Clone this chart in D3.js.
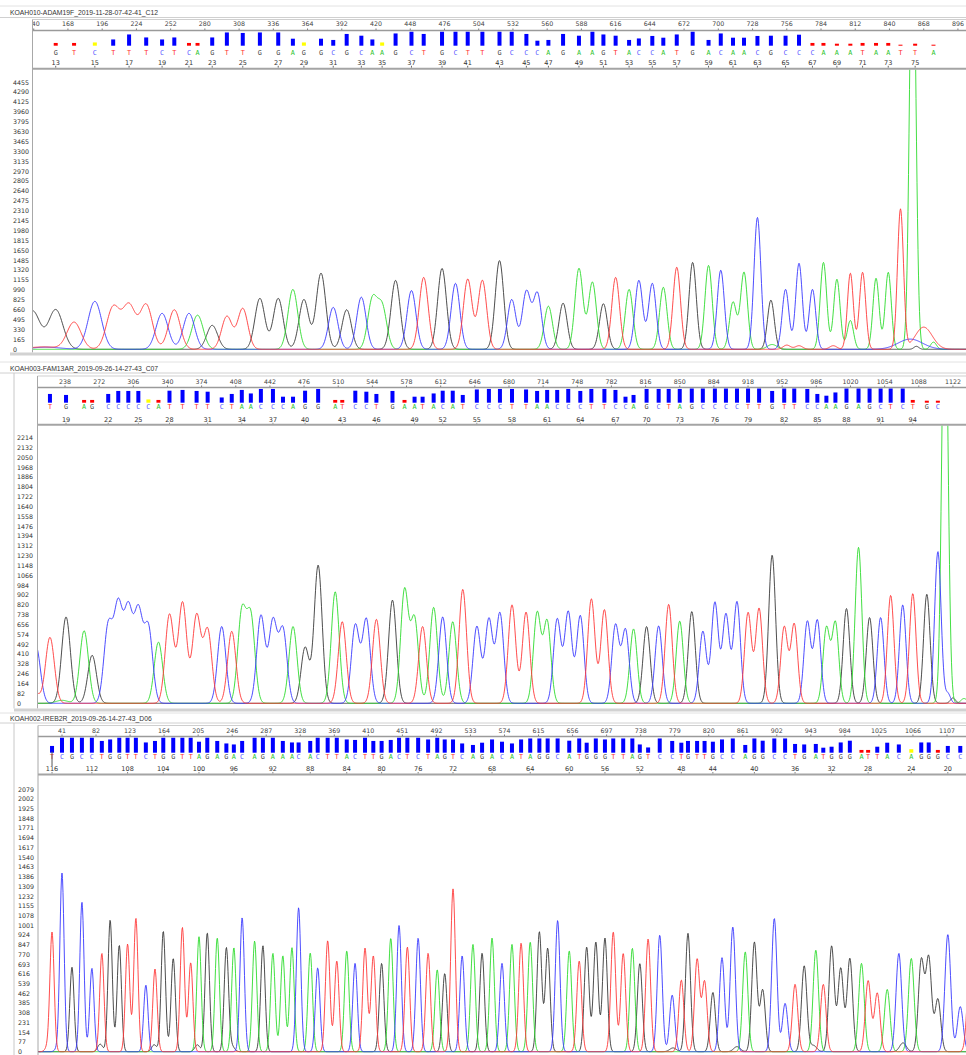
<!DOCTYPE html>
<html>
<head>
<meta charset="utf-8">
<script src="https://cdn.jsdelivr.net/npm/d3@7"></script>
<style>
  body { margin: 0; background: #fff; }
  svg { display: block; }
  text { font-family: "DejaVu Sans", sans-serif; }
</style>
</head>
<body>
<div id="chart"></div>
<script>
// ---------- panel 1 : KOAH010-ADAM19F ----------
const title1 = 'KOAH010-ADAM19F_2019-11-28-07-42-41_C12';
const seq1 = 'GTCTTTCTCAGTTGGAGGCGCAAGCTGCTTGCCCAGAAGTACCATGACAACGCCCAAATAATTA';
const num1 = d3.range(13, 77);
const pos1 = [158,173,190,205,218,232,245,255,267,274,
  286,298,311,325,340,352,361,375,385,396,
  408,417,425,436,449,459,474,485,495,507,
  521,531,543,552,561,573,586,597,606,616,
  627,635,646,655,666,679,692,702,712,721,
  732,743,755,766,777,786,797,808,818,829,
  839,849,861,876];
const qual1 = [11,11,13,25,45,33,25,33,11,11,
  33,53,51,53,53,28,13,28,23,47,
  40,25,13,49,56,47,56,56,56,56,
  56,56,47,20,23,47,40,56,45,40,
  23,29,39,32,45,56,23,49,32,32,
  39,40,40,44,11,11,8,8,11,11,
  11,4,8,4];
const amp1 = [660,450,800,700,720,740,600,660,600,570,
  400,550,680,850,850,1000,830,1270,700,660,
  870,820,700,1150,980,1200,1350,1100,1170,1150,
  1480,830,960,930,720,770,1350,1120,760,1200,
  1000,1150,1100,1035,1370,1450,1400,1320,785,1285,
  2200,820,1000,1435,1000,1450,1170,480,1285,1185,
  1285,2335,0,120];
// secondary / uncalled peaks: [channel, sample, height, width in samples (0 = default)]
const extra1 = [['G',139,640,0],['C',150,35,12],['T',148,40,12],['T',808,1270,2.4],
  ['A',744,80,4],['T',756,70,3],['T',766,60,3],['T',794,60,3],
  ['A',859,7500,2.5],['T',868,370,7],['C',857,170,10],['G',862,50,2]];
const numLabels1 = d3.range(13, 76, 2);
const sampleTicks1 = d3.range(140, 897, 28);
const yTicks1 = d3.range(0, 4456, 165);

// ---------- panel 2 : KOAH003-FAM13AR ----------
const title2 = 'KOAH003-FAM13AR_2019-09-26-14-27-43_C07';
const seq2 = 'TGAGCCCCCATTTTCTAACCCAGGATCCTGAATACATCCCTTAACCCTTCCAGCTAGCCCCTTGTTCCAAGAGCTCTGC';
const num2 = d3.range(18, 97);
const pos2 = [223,239,257,265,281,291,301,311,321,331,
  342,355,369,380,394,404,414,423,433,445,
  455,465,477,490,507,514,527,538,548,564,
  576,586,594,605,614,624,634,648,660,671,
  683,697,708,718,728,739,751,762,775,786,
  796,804,817,829,839,850,862,873,885,896,
  907,918,929,942,954,964,977,987,996,1005,
  1016,1028,1039,1050,1060,1072,1082,1096,1107];
const qual2 = [35,31,11,11,35,47,47,47,13,11,
  48,51,47,44,21,35,51,37,55,55,
  24,24,48,55,11,11,48,44,35,47,
  11,24,24,37,48,48,31,53,55,55,
  55,53,47,51,51,55,47,55,55,51,
  24,31,55,55,55,55,57,57,57,57,
  57,57,57,47,57,57,55,35,28,41,
  57,57,57,57,57,57,11,8,8];
const amp2 = [550,720,605,400,640,790,755,740,625,510,
  740,840,730,610,640,600,750,710,730,680,
  610,640,465,1150,930,680,650,700,700,860,
  940,700,640,800,720,680,950,640,700,750,
  820,760,750,680,700,760,730,870,780,650,
  610,620,640,645,825,685,765,600,840,740,
  845,755,790,1235,635,660,680,690,625,670,
  790,1300,715,715,900,820,915,910,1265];
const extra2 = [['C',209,480,0],['T',208,90,0],['A',235,25,6],['A',1114,3700,3],
  ['C',1117,80,2.5],['G',1122,45,2.5],['A',1133,40,3]];
const numLabels2 = d3.range(19, 95, 3);
const sampleTicks2 = d3.range(238, 1123, 34);
const yTicks2 = d3.range(0, 2215, 82);

// ---------- panel 3 : KOAH002-IREB2R (reverse numbering) ----------
const title3 = 'KOAH002-IREB2R_2019-09-26-14-27-43_D06';
const seq3 = 'TCGCCTGGTTCTGGTTAGAGACAGAAACACTTACTTGACTCTAGTCAGACATAGGCATGGGTTAGTCCTGTTGCCAGGCCTGATGGGATTACAGGGCC';
const num3 = d3.range(116, 18, -1);
const pos3 = [29,41,53,65,77,89,99,110,120,130,
  142,153,163,175,186,196,206,216,228,239,
  248,258,273,283,295,307,318,326,340,349,
  361,372,384,394,406,416,426,437,447,457,
  470,482,493,502,512,523,536,547,559,571,
  583,594,605,616,626,638,652,664,673,684,
  695,705,717,728,737,747,761,776,787,795,
  806,815,825,836,849,864,875,885,899,912,
  924,935,949,958,968,979,990,1004,1012,1023,
  1035,1049,1064,1076,1085,1096,1108,1123];
const qual3 = [27,60,60,60,60,47,53,60,60,60,
  41,47,60,60,60,60,44,60,47,37,
  33,47,60,60,60,47,41,41,47,60,
  60,60,53,51,60,47,47,51,60,60,
  60,53,60,53,53,37,31,40,53,44,
  37,53,57,57,57,57,48,57,40,57,
  53,57,57,57,33,21,57,47,40,47,
  47,47,44,53,57,31,57,48,57,57,
  35,33,35,20,24,41,48,11,11,24,
  40,33,14,41,41,11,27,27];
const amp3 = [938,1408,669,1184,661,780,1043,845,853,1057,
  528,655,956,740,985,705,911,943,903,824,
  824,1062,877,840,780,761,824,1141,784,665,
  880,720,800,700,820,760,700,900,1000,830,
  900,780,650,620,1290,760,850,780,900,700,
  850,860,870,950,820,1040,800,720,830,870,
  900,950,780,820,700,893,925,449,568,938,
  732,555,470,745,990,792,867,489,1057,383,
  534,681,806,534,837,661,740,700,563,465,
  494,780,740,719,740,417,930,357];
const extra3 = [['T',1135,720,0],['G',87,60,3],['G',152,55,3],['G',204,55,3],
  ['G',246,40,3],['T',24,40,3],['C',36,30,3],['G',777,30,4],['G',854,40,4],
  ['G',946,50,4],['G',1054,70,4]];
const numLabels3 = d3.range(116, 19, -4);
const sampleTicks3 = d3.range(41, 1108, 41);
const yTicks3 = d3.range(0, 2080, 77);

// ---------- drawing ----------
const W = 966, H = 1055;
const traceColor = { A: '#2fdc2f', C: '#3a3aff', G: '#3a3a3a', T: '#ff3a3a' };
const letterColor = { A: '#2ec42e', C: '#5555ff', G: '#444', T: '#ff3030' };
const qualColor = q => (q <= 11 ? '#ff0000' : q <= 15 ? '#ffff00' : '#0000ff');

const svg = d3.select('#chart').append('svg')
  .attr('width', W).attr('height', H);
const defs = svg.append('defs');

function drawPanel(P, L) {
  const g = svg.append('g');
  const xs = d3.scaleLinear().domain(P.domain).range([L.axisX, W]);
  const ys = d3.scaleLinear().domain([0, P.yMax]).range([L.y0, L.yTop]);
  const sig = d3.scaleLinear().domain(P.sigDom).range(P.sigRange).clamp(true);

  // title band
  g.append('line').attr('x1', 0).attr('x2', W).attr('y1', L.lineA).attr('y2', L.lineA)
    .attr('stroke', '#e2e2e2');
  g.append('line').attr('x1', 0).attr('x2', W).attr('y1', L.lineB).attr('y2', L.lineB)
    .attr('stroke', '#d0d0d0');
  g.append('text').attr('x', 10).attr('y', L.titleY)
    .style('font-family', '"Liberation Sans", sans-serif')
    .style('font-size', '6.8px').attr('fill', '#333').text(P.title);
  if (L.frameX) {
    g.append('line').attr('x1', L.frameX).attr('x2', L.frameX)
      .attr('y1', L.lineB).attr('y2', L.band || H).attr('stroke', '#c8c8c8');
  }

  // header (sample ticks, quality bars, base calls, base numbers)
  const hid = 'hclip' + P.id;
  defs.append('clipPath').attr('id', hid).append('rect')
    .attr('x', L.axisX + 0.5).attr('y', L.hdrTop - 2)
    .attr('width', W - L.axisX).attr('height', L.hdrBot - L.hdrTop + 4);
  const hdr = g.append('g').attr('clip-path', `url(#${hid})`);

  g.append('line').attr('x1', L.axisX).attr('x2', W).attr('y1', L.hdrTop).attr('y2', L.hdrTop)
    .attr('stroke', '#cfcfcf');
  g.append('line').attr('x1', L.axisX).attr('x2', W).attr('y1', L.sep).attr('y2', L.sep)
    .attr('stroke', '#9a9a9a').attr('stroke-width', 1.3);
  g.append('line').attr('x1', L.axisX).attr('x2', W).attr('y1', L.hdrBot).attr('y2', L.hdrBot)
    .attr('stroke', '#a4a4a4').attr('stroke-width', 2);

  hdr.selectAll('.stick').data(P.sampleTicks).enter().append('line')
    .attr('x1', d => xs(d)).attr('x2', d => xs(d))
    .attr('y1', L.sep - 2).attr('y2', L.sep).attr('stroke', '#777');
  hdr.selectAll('.slab').data(P.sampleTicks).enter().append('text')
    .attr('x', d => xs(d)).attr('y', L.tickLabY).attr('text-anchor', 'middle')
    .style('font-size', '6.3px').attr('fill', '#444').text(d => d);

  const calls = P.seq.split('').map((b, i) => ({ b, n: P.num[i], s: P.pos[i], q: P.qual[i] }));
  hdr.selectAll('.qbar').data(calls).enter().append('rect')
    .attr('x', d => xs(d.s) - 2).attr('width', 4)
    .attr('y', d => L.barBase - d.q * 0.25).attr('height', d => d.q * 0.25)
    .attr('fill', d => qualColor(d.q));
  hdr.selectAll('.call').data(calls).enter().append('text')
    .attr('x', d => xs(d.s)).attr('y', L.letY).attr('text-anchor', 'middle')
    .style('font-family', '"DejaVu Sans Mono", monospace').style('font-size', '6.8px')
    .attr('fill', d => letterColor[d.b]).text(d => d.b);

  const labelled = calls.filter(d => P.numLabels.includes(d.n));
  hdr.selectAll('.ntick').data(labelled).enter().append('line')
    .attr('x1', d => xs(d.s)).attr('x2', d => xs(d.s))
    .attr('y1', L.numY + 1.2).attr('y2', L.hdrBot - 1).attr('stroke', '#666');
  hdr.selectAll('.nlab').data(labelled).enter().append('text')
    .attr('x', d => xs(d.s)).attr('y', L.numY).attr('text-anchor', 'middle')
    .style('font-size', '6.5px').attr('fill', '#333').text(d => d.n);

  if (P.cursor) {
    const c = calls.find(d => d.n === P.cursor);
    hdr.append('line').attr('x1', xs(c.s)).attr('x2', xs(c.s))
      .attr('y1', L.barBase - 1).attr('y2', L.numY - 5).attr('stroke', '#555');
  }

  // left axis line and intensity labels
  g.append('line').attr('x1', L.axisX).attr('x2', L.axisX)
    .attr('y1', L.hdrTop).attr('y2', L.band || H).attr('stroke', '#a8a8a8');
  g.selectAll('.ylab').data(P.yTicks).enter().append('text')
    .attr('x', L.labX).attr('y', d => ys(d) + 2.3)
    .style('font-size', '6.3px').attr('fill', '#333').text(d => d);

  if (L.band) {
    g.append('rect').attr('x', L.bandX).attr('y', L.band).attr('width', W - L.bandX)
      .attr('height', 3).attr('fill', '#d2d2d2');
  }

  // traces: each channel is the sum of its peaks
  const pid = 'pclip' + P.id;
  defs.append('clipPath').attr('id', pid).append('rect')
    .attr('x', L.axisX + 0.5).attr('y', L.plotTop)
    .attr('width', W - L.axisX).attr('height', L.y0 - L.plotTop + 1.5);
  const plot = g.append('g').attr('clip-path', `url(#${pid})`);

  const peaks = P.seq.split('').map((b, i) => ({ b, x: xs(P.pos[i]), h: P.amp[i], s: 0 }))
    .concat(P.extra.map(([b, p, h, w]) => ({ b, x: xs(p), h, s: w ? xs(p + w) - xs(p) : 0 })));
  const grid = d3.range(L.axisX, W + 1, 0.5);
  const line = d3.line().x(d => d[0]).y(d => ys(d[1]));

  ['G', 'A', 'C', 'T'].forEach(ch => {
    const pk = peaks.filter(p => p.b === ch && p.h > 0)
      .map(p => ({ x: p.x, h: p.h, s: p.s || sig(p.x) }));
    const vals = grid.map(x => [x, d3.sum(pk, p => {
      const z = (x - p.x) / p.s;
      return z * z > 60 ? 0 : p.h * Math.exp(-z * z / 2);
    })]);
    plot.append('path').datum(vals).attr('d', line)
      .attr('fill', 'none').attr('stroke', traceColor[ch])
      .attr('stroke-width', 1).attr('stroke-opacity', 0.9);
  });
}

drawPanel(
  { id: 1, title: title1, seq: seq1, num: num1, pos: pos1, qual: qual1, amp: amp1, extra: extra1,
    numLabels: numLabels1, sampleTicks: sampleTicks1, yTicks: yTicks1, yMax: 4455,
    domain: [139.0, 902.6], sigDom: [33, 250, 966], sigRange: [7.5, 5, 2.8] },
  { lineA: 6, lineB: 17.5, titleY: 14.6, frameX: null, axisX: 32.5, hdrTop: 19.5, tickLabY: 26.4,
    sep: 30.5, barBase: 45.7, letY: 54.5, numY: 64.6, hdrBot: 68.7, plotTop: 69.8,
    y0: 349.3, yTop: 82.3, band: 352.5, bandX: 10, labX: 13 });

drawPanel(
  { id: 2, title: title2, seq: seq2, num: num2, pos: pos2, qual: qual2, amp: amp2, extra: extra2,
    numLabels: numLabels2, sampleTicks: sampleTicks2, yTicks: yTicks2, yMax: 2214,
    domain: [210.6, 1135.0], sigDom: [37, 300, 966], sigRange: [4.4, 4, 3.2] },
  { lineA: 362, lineB: 373, titleY: 370.8, frameX: 14, axisX: 37.5, hdrTop: 376, tickLabY: 384.4,
    sep: 387.5, barBase: 402.7, letY: 409.2, numY: 421.6, hdrBot: 424.7, plotTop: 425.8,
    y0: 703.3, yTop: 437.7, band: 708.5, bandX: 14, labX: 17 });

drawPanel(
  { id: 3, title: title3, seq: seq3, num: num3, pos: pos3, qual: qual3, amp: amp3, extra: extra3,
    numLabels: numLabels3, sampleTicks: sampleTicks3, yTicks: yTicks3, yMax: 2079, cursor: 116,
    domain: [12.1, 1129.9], sigDom: [38, 600, 966], sigRange: [2.1, 2.4, 2.9] },
  { lineA: 713, lineB: 723, titleY: 720.8, frameX: 14, axisX: 38, hdrTop: 725.5, tickLabY: 733.4,
    sep: 736.5, barBase: 752.7, letY: 759.2, numY: 771, hdrBot: 774.5, plotTop: 775.6,
    y0: 1051.7, yTop: 789.3, band: null, bandX: 14, labX: 18 });
</script>
</body>
</html>
